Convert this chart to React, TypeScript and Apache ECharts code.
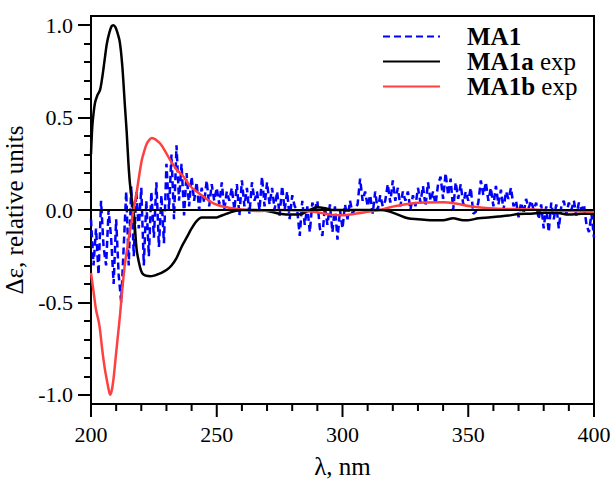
import { useEffect, useRef } from "react";
import * as echarts from "echarts";

// MA1 (calculated), sampled every 1 nm starting at 200 nm
const BLUE_START_NM = 200;
const BLUE_200_215 = [-0.05, -0.3, -0.1, -0.35, 0.05, -0.2, -0.3, 0.0, -0.15, -0.4, -0.05, -0.35, -0.5, -0.2, 0.1, -0.3];
const BLUE_216_225 = [0.13, -0.25, 0.1, -0.1, 0.12, -0.3, 0.05, -0.25, 0.1, -0.15];
const BLUE_226_240 = [0.15, -0.2, 0.08, -0.18, 0.25, 0.0, 0.3, -0.05, 0.35, 0.05, 0.25, -0.03, 0.2, 0.02, 0.18];
const BLUE_241_257 = [0.05, 0.15, 0.0, 0.12, 0.04, 0.16, 0.02, 0.14, 0.05, 0.12, 0.03, 0.15, 0.0, 0.1, 0.05, 0.12, 0.0];
const BLUE_258_275 = [0.14, -0.03, 0.16, 0.02, 0.12, -0.02, 0.15, 0.05, 0.1, 0.0, 0.18, 0.02, 0.15, 0.03, 0.12, 0.0, 0.1, -0.03];
const BLUE_276_295 = [0.13, 0.0, 0.1, -0.05, 0.08, 0.02, 0.0, -0.14, 0.05, -0.08, 0.02, -0.12, 0.04, 0.0, 0.05, -0.1, -0.14, 0.02, -0.08, 0.03];
const BLUE_296_310 = [-0.12, 0.02, -0.16, 0.0, -0.1, 0.03, -0.05, 0.05, -0.02, 0.01, 0.03, 0.17, 0.05, 0.1, 0.02];
const BLUE_311_325 = [0.08, -0.02, 0.1, 0.0, 0.08, 0.02, 0.05, 0.14, 0.04, 0.16, 0.05, 0.12, 0.02, 0.1, 0.05];
const BLUE_326_340 = [0.1, 0.0, 0.08, 0.02, 0.12, 0.04, 0.13, 0.02, 0.15, 0.05, 0.1, 0.03, 0.14, 0.18, 0.06];
const BLUE_341_360 = [0.2, 0.08, 0.17, 0.0, 0.15, 0.06, 0.14, 0.03, 0.1, 0.05, 0.12, -0.02, -0.01, 0.04, 0.16, 0.08, 0.15, 0.05, 0.12, 0.02];
const BLUE_361_380 = [0.13, 0.03, 0.11, 0.0, 0.1, 0.06, 0.12, 0.02, 0.05, -0.04, 0.04, -0.02, 0.06, 0.01, 0.05, 0.0, 0.04, -0.05, 0.03, -0.1];
const BLUE_381_400 = [0.02, -0.12, 0.04, -0.05, 0.03, -0.1, 0.02, 0.05, -0.02, 0.04, 0.0, 0.05, -0.03, 0.04, 0.0, 0.03, -0.08, -0.12, -0.02, -0.15];

// MA1a exp
const BLACK_WL = [200, 200.5, 201, 201.6, 202.5, 203.6, 204.5, 205.3, 206.3, 207.3, 208.2, 208.9, 209.7, 210.5, 211.3, 211.9, 212.5, 212.9, 213.5, 214.2, 214.9, 215.5, 216.2, 216.9, 217.5, 218.2, 219.5, 220.3, 221, 222, 223.5, 225, 226.5, 228, 230, 232, 234, 236, 238, 240, 242, 244, 246, 248, 250, 252, 254, 256, 260, 265, 270, 275, 280, 284, 287, 290, 293, 296, 300, 305, 310, 315, 318, 322, 326, 330, 335, 340, 344, 348, 350, 354, 358, 362, 366, 370, 375, 380, 385, 390, 395, 400];
const BLACK_VAL = [0.3, 0.45, 0.52, 0.58, 0.62, 0.65, 0.72, 0.8, 0.9, 0.96, 0.995, 1.0, 0.99, 0.96, 0.92, 0.86, 0.77, 0.69, 0.56, 0.42, 0.25, 0.14, 0.06, 0.0, -0.1, -0.22, -0.31, -0.34, -0.35, -0.356, -0.358, -0.355, -0.348, -0.34, -0.325, -0.3, -0.26, -0.2, -0.15, -0.1, -0.06, -0.04, -0.04, -0.04, -0.04, -0.03, -0.02, -0.01, 0.0, 0.0, -0.005, -0.02, -0.025, -0.02, 0.0, 0.015, 0.01, 0.0, 0.0, 0.0, 0.0, 0.0, -0.005, -0.025, -0.045, -0.05, -0.055, -0.055, -0.045, -0.055, -0.055, -0.045, -0.04, -0.035, -0.03, -0.022, -0.02, -0.015, -0.015, -0.025, -0.02, -0.02];

// MA1b exp
const RED_WL = [200, 201, 202, 203, 203.6, 204.5, 205.5, 206.3, 207, 207.6, 208.2, 208.9, 209.8, 210.7, 211.6, 212.5, 213.5, 214.5, 215.5, 216.3, 216.9, 217.6, 218.2, 219.2, 220.2, 221.2, 222.2, 223.2, 224.2, 225.2, 226.3, 227.5, 229, 231.5, 234, 236.8, 239.4, 242, 246, 248.7, 252, 258, 266, 275, 285, 290, 295, 300, 305, 310, 315, 319, 324, 328, 333, 340, 345, 351, 357, 364, 371, 380, 390, 400];
const RED_VAL = [-0.34, -0.44, -0.54, -0.6, -0.65, -0.76, -0.86, -0.92, -0.97, -1.0, -0.98, -0.92, -0.8, -0.68, -0.56, -0.42, -0.29, -0.2, -0.11, -0.05, 0.0, 0.05, 0.1, 0.19, 0.27, 0.32, 0.36, 0.38, 0.39, 0.385, 0.375, 0.36, 0.33, 0.27, 0.22, 0.18, 0.13, 0.1, 0.06, 0.036, 0.02, 0.005, -0.005, 0.0, -0.005, -0.012, -0.025, -0.028, -0.02, -0.01, 0.0, 0.015, 0.028, 0.036, 0.04, 0.042, 0.035, 0.02, 0.011, 0.006, 0.004, 0.0, -0.005, -0.01];

const X_MIN = 200;
const X_MAX = 400;
const X_MAJOR = [200, 250, 300, 350, 400];
const X_MINOR = [210, 220, 230, 240, 260, 270, 280, 290, 310, 320, 330, 340, 360, 370, 380, 390];
const Y_MIN = -1.05;
const Y_MAX = 1.05;
const Y_MAJOR = [-1.0, -0.5, 0.0, 0.5, 1.0];
const Y_MINOR = [-1.0, -0.9, -0.8, -0.7, -0.6, -0.5, -0.4, -0.3, -0.2, -0.1, 0.0, 0.1, 0.2, 0.3, 0.4, 0.5, 0.6, 0.7, 0.8, 0.9, 1.0];

const SERIES_NAMES = ["MA1", "MA1a exp", "MA1b exp"];

const MAJOR_TICK_LEN = 13;
const MINOR_TICK_LEN = 7;
const GRID_LEFT = 91;
const GRID_RIGHT = 20;
const GRID_TOP = 16;
const GRID_BOTTOM = 82;
const CHART_H = 486;

export default function App() {
  const ref = useRef<HTMLDivElement>(null);
  useEffect(() => {
    if (!ref.current) return;
    const chart = echarts.init(ref.current, null, { renderer: "svg" });
    const font = "'Liberation Serif', 'Times New Roman', serif";

    const blueVals = [
      ...BLUE_200_215, ...BLUE_216_225, ...BLUE_226_240, ...BLUE_241_257,
      ...BLUE_258_275, ...BLUE_276_295, ...BLUE_296_310, ...BLUE_311_325,
      ...BLUE_326_340, ...BLUE_341_360, ...BLUE_361_380, ...BLUE_381_400,
    ];
    const blueData = blueVals.map((v, i) => [BLUE_START_NM + i, v]);
    const blackData = BLACK_WL.map((w, i) => [w, BLACK_VAL[i]]);
    const redData = RED_WL.map((w, i) => [w, RED_VAL[i]]);

    // x tick marks as thin bars hanging in a strip just under the plot
    const xTickData = [
      ...X_MAJOR.map((w) => [w, MAJOR_TICK_LEN]),
      ...X_MINOR.map((w) => [w, MINOR_TICK_LEN]),
    ];

    const tickStyle = { color: "#000", width: 2 };

    chart.setOption({
      animation: false,
      textStyle: { fontFamily: font, color: "#000" },
      grid: [
        {
          left: GRID_LEFT,
          right: GRID_RIGHT,
          top: GRID_TOP,
          bottom: GRID_BOTTOM,
          show: true,
          borderColor: "#000",
          borderWidth: 2,
          backgroundColor: "transparent",
          containLabel: false,
          outerBoundsMode: "none",
        },
        {
          left: GRID_LEFT,
          right: GRID_RIGHT,
          top: CHART_H - GRID_BOTTOM,
          height: MAJOR_TICK_LEN,
          show: false,
          containLabel: false,
          outerBoundsMode: "none",
        },
      ],
      legend: {
        orient: "vertical",
        left: 377,
        top: 19,
        itemWidth: 57,
        itemHeight: 14,
        itemGap: 0,
        align: "left",
        data: SERIES_NAMES,
        itemStyle: { opacity: 0 },
        formatter: (name: string) => {
          if (name === "MA1") return "{b|MA1}";
          const parts = name.split(" ");
          return "{b|" + parts[0] + "}{n| " + parts[1] + "}";
        },
        textStyle: {
          padding: [0, 0, 0, 22],
          rich: {
            b: { fontFamily: font, fontWeight: "bold", fontSize: 25, lineHeight: 24, color: "#000" },
            n: { fontFamily: font, fontSize: 25, lineHeight: 24, color: "#000" },
          },
        },
      },
      xAxis: [
        {
          type: "value",
          gridIndex: 0,
          min: X_MIN,
          max: X_MAX,
          position: "bottom",
          axisLine: { show: true, onZero: false, lineStyle: { color: "#000", width: 2 } },
          axisTick: { show: false },
          splitLine: { show: false },
          axisLabel: { color: "#000", fontSize: 22, margin: 19, fontFamily: font, customValues: X_MAJOR },
          name: "λ, nm",
          nameLocation: "middle",
          nameGap: 50,
          nameTextStyle: { color: "#000", fontSize: 25, fontFamily: font },
        },
        {
          type: "value",
          gridIndex: 1,
          min: X_MIN,
          max: X_MAX,
          show: false,
        },
      ],
      yAxis: [
        {
          type: "value",
          gridIndex: 0,
          min: Y_MIN,
          max: Y_MAX,
          position: "left",
          axisLine: { show: true, onZero: false, lineStyle: { color: "#000", width: 2 } },
          axisTick: { show: true, length: MAJOR_TICK_LEN, customValues: Y_MAJOR, lineStyle: tickStyle },
          axisLabel: {
            color: "#000",
            fontSize: 22,
            margin: 18,
            fontFamily: font,
            customValues: Y_MAJOR,
            formatter: (v: number) => v.toFixed(1),
          },
          splitLine: { show: false },
          name: "Δε, relative units",
          nameLocation: "middle",
          nameGap: 58,
          nameTextStyle: { color: "#000", fontSize: 25, fontFamily: font },
        },
        {
          type: "value",
          gridIndex: 0,
          min: Y_MIN,
          max: Y_MAX,
          position: "left",
          axisLine: { show: false, onZero: false },
          axisTick: { show: true, length: MINOR_TICK_LEN, customValues: Y_MINOR, lineStyle: tickStyle },
          axisLabel: { show: false },
          splitLine: { show: false },
        },
        {
          type: "value",
          gridIndex: 1,
          min: 0,
          max: MAJOR_TICK_LEN,
          inverse: true,
          show: false,
        },
      ],
      series: [
        {
          name: "MA1",
          type: "line",
          xAxisIndex: 0,
          yAxisIndex: 0,
          data: blueData,
          symbol: "none",
          lineStyle: { color: "#0000ff", width: 2.5, type: [7, 4] },
          itemStyle: { color: "#0000ff" },
          z: 2,
        },
        {
          name: "MA1a exp",
          type: "line",
          xAxisIndex: 0,
          yAxisIndex: 0,
          data: blackData,
          symbol: "none",
          smooth: 0.3,
          lineStyle: { color: "#000000", width: 2.5 },
          itemStyle: { color: "#000000" },
          z: 3,
          markLine: {
            silent: true,
            symbol: "none",
            label: { show: false },
            lineStyle: { color: "#000", width: 2, type: "solid" },
            data: [{ yAxis: 0 }],
          },
        },
        {
          name: "MA1b exp",
          type: "line",
          xAxisIndex: 0,
          yAxisIndex: 0,
          data: redData,
          symbol: "none",
          smooth: 0.3,
          lineStyle: { color: "#ff4040", width: 2.5 },
          itemStyle: { color: "#ff4040" },
          z: 4,
        },
        {
          name: "xticks",
          type: "bar",
          xAxisIndex: 1,
          yAxisIndex: 2,
          data: xTickData,
          barWidth: 2,
          silent: true,
          itemStyle: { color: "#000" },
          z: 10,
        },
      ],
    });

    return () => chart.dispose();
  }, []);

  return (
    <div
      ref={ref}
      style={{ position: "absolute", left: 0, top: 0, width: 614, height: 486, background: "#fff" }}
    />
  );
}
